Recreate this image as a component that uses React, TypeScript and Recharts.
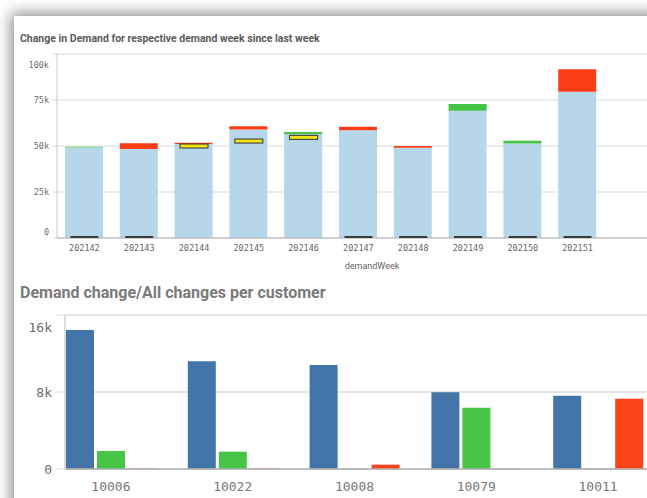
import { Bar, BarChart, CartesianGrid, ComposedChart, Line, XAxis, YAxis } from "recharts";

const weeks = ["202142", "202143", "202144", "202145", "202146", "202147", "202148", "202149", "202150", "202151"];
const baseDemand = [49200, 48400, 51100, 58900, 56400, 58500, 49100, 69200, 51300, 79500];
const weekIncrease = [400, 0, 0, 0, 1200, 0, 0, 3600, 1600, 0];
const weekDecrease = [0, 3100, 600, 1800, 0, 2000, 900, 0, 0, 12200];
const weekMarker = [0, 0, 50000, 52700, 54700, 0, 0, 0, 0, 0];
const weekTicks = [0, 25000, 50000, 75000, 100000];

const customers = ["10006", "10022", "10008", "10079", "10011"];
const allChanges = [14440, 11190, 10800, 7970, 7600];
const increases = [1870, 1800, 30, 6370, 30];
const decreases = [50, 50, 450, 30, 7300];
const customerTicks = [0, 8000, 16000];

const weekData = weeks.map((w, i) => ({
  week: w,
  base: baseDemand[i],
  up: weekIncrease[i],
  down: weekDecrease[i],
  marker: weekMarker[i],
}));

const customerData = customers.map((c, i) => ({
  customer: c,
  all: allChanges[i],
  up: increases[i],
  down: decreases[i],
}));

const kFormat = (v: number) => (v === 0 ? "0" : `${v / 1000}k`);
const mono = "DejaVu Sans Mono";

function MarkerDot(props: any) {
  const { cx, cy, value, index } = props;
  if (cx == null || cy == null) return <g key={index} />;
  if (!value) {
    return <rect key={index} x={cx - 14} y={cy - 2} width={28} height={2} fill="#3a3a3a" />;
  }
  return <rect key={index} x={cx - 14} y={cy - 2} width={28} height={4} fill="#f3e21a" stroke="#333" strokeWidth={1} />;
}

// qlik keeps the end labels inside the plot, so nudge the first/last ones
function makeYTick(size: number, topShift: number, bottomShift: number, last: number) {
  return (props: any) => {
    const { x, y, payload } = props;
    let dy = 0;
    if (payload.value === last) dy = topShift;
    if (payload.value === 0) dy = bottomShift;
    return (
      <text x={x} y={y + dy} dy="0.355em" textAnchor="end" fill="#6a6a6a" fontSize={size} fontFamily={mono}>
        {kFormat(payload.value)}
      </text>
    );
  };
}

const WeekTick = makeYTick(8.5, 6, -6, 100000);
const CustomerTick = makeYTick(13, 7, 0, 16000);

export default function App() {
  return (
    <div style={{ position: "fixed", left: 0, top: 0, width: 647, height: 498, overflow: "hidden", background: "#fff" }}>
      <div
        style={{
          position: "absolute",
          left: 14,
          top: 16,
          width: 720,
          height: 520,
          background: "#fff",
          boxShadow: "0 0 14px 3px rgba(0,0,0,0.45)",
        }}
      />
      <div
        style={{
          position: "absolute",
          left: 20,
          top: 32,
          fontFamily: "Roboto",
          fontWeight: 700,
          fontSize: 10.5,
          color: "#5a5a5a",
          whiteSpace: "nowrap",
        }}
      >
        Change in Demand for respective demand week since last week
      </div>
      <div style={{ position: "absolute", left: 0, top: 50 }}>
        <ComposedChart width={700} height={222} data={weekData} margin={{ top: 4, right: 13, left: 0, bottom: 0 }} barSize={38}>
          <CartesianGrid stroke="#d9d9d9" strokeWidth={1.2} vertical={false} />
          <XAxis
            dataKey="week"
            height={34}
            padding={{ left: 0, right: 82 }}
            axisLine={{ stroke: "#b5b5b5" }}
            tickLine={false}
            tick={{ fill: "#666", fontSize: 8.5, fontFamily: mono }}
            tickMargin={1}
            label={{ value: "demandWeek", position: "insideBottom", offset: 3, fill: "#666", fontSize: 9, fontFamily: "Roboto" }}
          />
          <YAxis
            width={57}
            domain={[0, 100000]}
            ticks={weekTicks}
            axisLine={{ stroke: "#c8c8c8" }}
            tickLine={{ stroke: "#d9d9d9" }}
            tickSize={4}
            tickMargin={4}
            tick={WeekTick}
          />
          <Bar dataKey="base" stackId="w" fill="#b6d6e9" isAnimationActive={false} />
          <Bar dataKey="up" stackId="w" fill="#46c246" isAnimationActive={false} />
          <Bar dataKey="down" stackId="w" fill="#fb3d16" isAnimationActive={false} />
          <Line dataKey="marker" stroke="none" dot={MarkerDot} activeDot={false} isAnimationActive={false} />
        </ComposedChart>
      </div>
      <div
        style={{
          position: "absolute",
          left: 20,
          top: 283,
          fontFamily: "Roboto",
          fontWeight: 700,
          fontSize: 16,
          color: "#7a7a7a",
          whiteSpace: "nowrap",
        }}
      >
        Demand change/All changes per customer
      </div>
      <div style={{ position: "absolute", left: 0, top: 311 }}>
        <BarChart width={670} height={187} data={customerData} margin={{ top: 4, right: 11, left: 0, bottom: 0 }} barSize={28} barGap={3}>
          <CartesianGrid stroke="#dcdcdc" strokeWidth={1.5} vertical={false} />
          <XAxis
            dataKey="customer"
            height={29}
            padding={{ left: -15, right: 0 }}
            axisLine={{ stroke: "#b0b0b0", strokeWidth: 1.5 }}
            tickLine={false}
            tick={{ fill: "#777", fontSize: 13, fontFamily: mono }}
            tickMargin={7}
          />
          <YAxis
            width={65}
            domain={[0, 16000]}
            ticks={customerTicks}
            axisLine={{ stroke: "#dcdcdc", strokeWidth: 2 }}
            tickLine={{ stroke: "#dcdcdc" }}
            tickSize={10}
            tickMargin={3}
            tick={CustomerTick}
          />
          <Bar dataKey="all" fill="#4375a8" isAnimationActive={false} />
          <Bar dataKey="up" fill="#46c546" isAnimationActive={false} />
          <Bar dataKey="down" fill="#fd4318" isAnimationActive={false} />
        </BarChart>
      </div>
    </div>
  );
}
